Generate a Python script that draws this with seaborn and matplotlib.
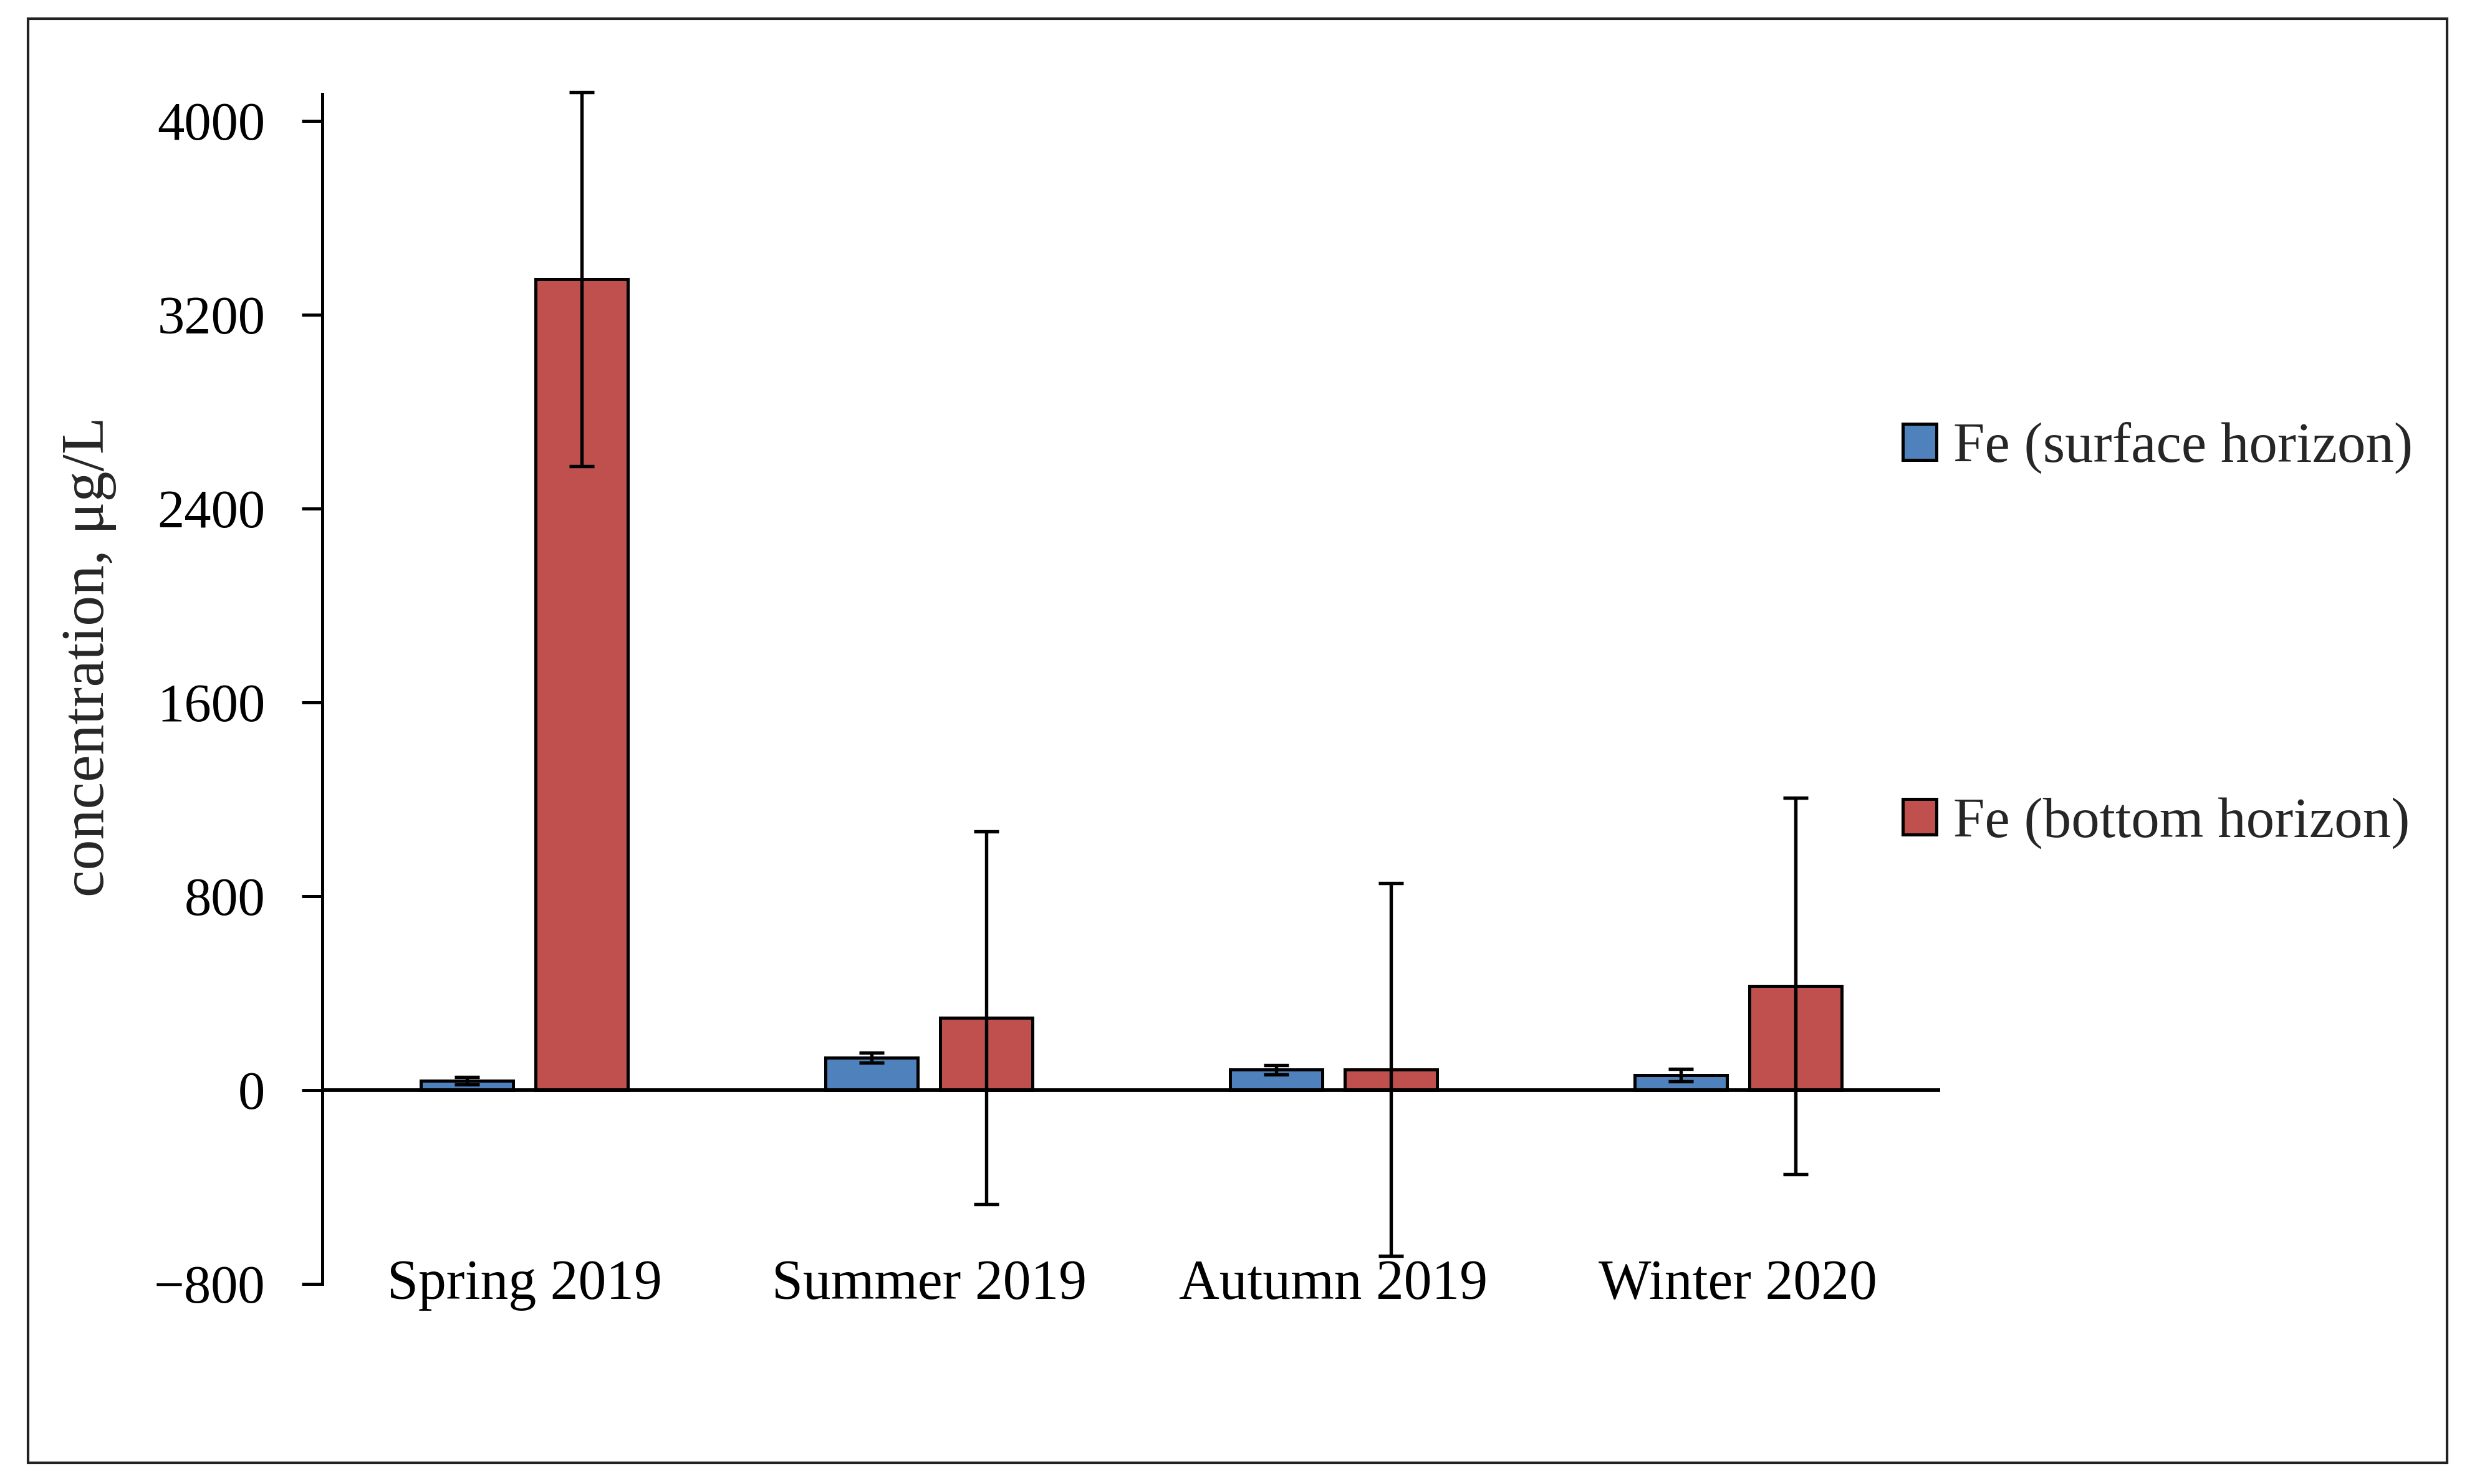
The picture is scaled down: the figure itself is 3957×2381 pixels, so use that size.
import numpy as np
import pandas as pd
import matplotlib
matplotlib.use("Agg")
import matplotlib.pyplot as plt
import matplotlib.patches as mpatches
import seaborn as sns

# values (ug/L)
seasons = ["Spring 2019", "Summer 2019", "Autumn 2019", "Winter 2020"]
series_names = ["Fe (surface horizon)", "Fe (bottom horizon)"]
surface_mean = [38, 134, 84, 62]
surface_err = [15, 20, 20, 26]
bottom_mean = [3345, 298, 85, 430]
bottom_err = [772, 770, 770, 777]
y_ticks = [-800, 0, 800, 1600, 2400, 3200, 4000]

colors = ["#4F81BD", "#C0504D"]

df = pd.DataFrame({
    "season": seasons * 2,
    "series": [series_names[0]] * len(seasons) + [series_names[1]] * len(seasons),
    "value": surface_mean + bottom_mean,
})
errs = [surface_err, bottom_err]

sns.set_style("white")
plt.rcParams["font.family"] = ["Liberation Serif", "DejaVu Serif"]
plt.rcParams["font.size"] = 21

fig = plt.figure(figsize=(13.193, 7.937), dpi=300)
ax = fig.add_axes([0.1306, 0.1348, 0.6557, 0.8018])

sns.barplot(data=df, x="season", y="value", hue="series", palette=colors,
            saturation=1, width=0.567, gap=0.195, edgecolor="black",
            linewidth=1.2, errorbar=None, legend=False, ax=ax)

## error bars on top of each bar
for bars, err in zip(ax.containers, errs):
    xs = [b.get_x() + b.get_width() / 2 for b in bars]
    ys = [b.get_height() for b in bars]
    ax.errorbar(xs, ys, yerr=err, fmt="none", ecolor="black",
                elinewidth=1.3, capsize=4.7, capthick=1.3, zorder=5,
                clip_on=False)

ax.axhline(0, color="black", lw=1.4, zorder=4)

ax.set_ylim(-800, 4110)
ax.set_xlim(-0.5, len(seasons) - 0.5)
ax.set_yticks(y_ticks)
ax.set_xlabel("")
ax.set_ylabel("concentration, \u03bcg/L", fontsize=23.5)
ax.yaxis.set_label_coords(-0.127, 0.527)

for side in ["top", "right", "bottom"]:
    ax.spines[side].set_visible(False)
ax.spines["left"].set_color("black")
ax.spines["left"].set_linewidth(1.2)

ax.tick_params(axis="y", left=True, direction="out", length=8, width=1.2,
               pad=14, labelsize=20.8, colors="black")
ax.tick_params(axis="x", bottom=False, length=0, pad=-9.5, labelsize=21.5,
               colors="black")

fig.legend(handles=list(ax.containers), labels=series_names,
           loc="upper left", bbox_to_anchor=(0.771, 0.7157),
           frameon=False, borderpad=0, borderaxespad=0,
           handlelength=0.6, handleheight=0.6, handletextpad=0.3,
           labelspacing=5.71, fontsize=21.8)

# thin frame around the whole picture
fig.patches.append(mpatches.Rectangle((0.0114, 0.0143), 0.9803, 0.9731,
                                      transform=fig.transFigure, fill=False,
                                      edgecolor="#222222", lw=1.0))

fig.savefig("out.png", dpi=300, facecolor="white")
